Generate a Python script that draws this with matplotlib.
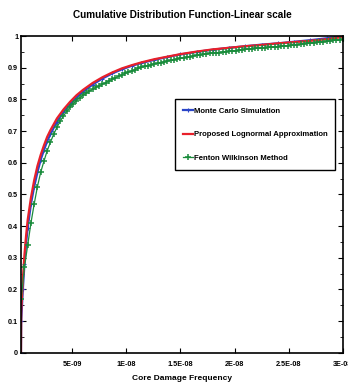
import matplotlib

matplotlib.use('Agg')
import matplotlib.pyplot as plt
from matplotlib import font_manager

# narrow bold font like the original, if the system has one
family = ['Liberation Sans', 'DejaVu Sans']
try:
    font_manager.findfont('Liberation Sans Narrow', fallback_to_default=False)
    family = ['Liberation Sans Narrow'] + family
except ValueError:
    pass
plt.rcParams['font.family'] = family
plt.rcParams['font.weight'] = 'bold'
narrow = family[0] == 'Liberation Sans Narrow'

# Core damage frequency (units of 1e-9) and CDF values
x_grid = [0.3 * k for k in range(1, 101)]
fenton = [0.17, 0.27, 0.34, 0.41, 0.47, 0.525, 0.57, 0.605, 0.638, 0.665,
          0.69, 0.712, 0.731, 0.748, 0.762, 0.775, 0.786, 0.796, 0.805, 0.813,
          0.82, 0.826, 0.832, 0.838, 0.843, 0.848, 0.853, 0.858, 0.863, 0.868,
          0.873, 0.878, 0.882, 0.886, 0.89, 0.894, 0.898, 0.901, 0.904, 0.907,
          0.91, 0.912, 0.914, 0.916, 0.919, 0.921, 0.923, 0.925, 0.928, 0.93,
          0.932, 0.934, 0.935, 0.937, 0.939, 0.94, 0.942, 0.943, 0.945, 0.946,
          0.947, 0.948, 0.95, 0.951, 0.952, 0.953, 0.954, 0.955, 0.957, 0.958,
          0.959, 0.96, 0.961, 0.962, 0.963, 0.963, 0.964, 0.965, 0.966, 0.967,
          0.968, 0.969, 0.97, 0.971, 0.972, 0.973, 0.975, 0.976, 0.977, 0.978,
          0.979, 0.98, 0.981, 0.982, 0.983, 0.984, 0.986, 0.987, 0.988, 0.99]

x_fit = [0.28, 0.3, 0.45, 0.6, 0.75, 0.9, 1.2, 1.5, 1.8, 2.1, 2.4, 2.7, 3.0,
         3.6, 4.2, 4.8, 5.4, 6.0, 6.9, 7.8, 8.7, 9.6, 10.5, 11.4, 12.6, 13.8,
         15.0, 16.5, 18.0, 19.5, 21.0, 22.5, 24.0, 25.5, 27.0, 28.5, 30.0]
lognormal = [0.0, 0.13, 0.23, 0.31, 0.37, 0.42, 0.49, 0.545, 0.59, 0.625,
             0.655, 0.682, 0.703, 0.74, 0.768, 0.792, 0.813, 0.83, 0.852, 0.87,
             0.885, 0.898, 0.908, 0.917, 0.927, 0.935, 0.943, 0.951, 0.958,
             0.963, 0.968, 0.972, 0.977, 0.981, 0.985, 0.99, 0.997]
monte_carlo = [0.0, 0.1, 0.2, 0.28, 0.345, 0.395, 0.47, 0.525, 0.57, 0.61,
               0.64, 0.668, 0.69, 0.73, 0.76, 0.785, 0.806, 0.824, 0.847, 0.866,
               0.882, 0.895, 0.906, 0.915, 0.925, 0.934, 0.942, 0.95, 0.957,
               0.963, 0.968, 0.973, 0.977, 0.982, 0.987, 0.993, 1.0]

x_ticks = [5e-9, 1e-8, 1.5e-8, 2e-8, 2.5e-8, 3e-8]
x_tick_labels = ['5E-09', '1E-08', '1.5E-08', '2E-08', '2.5E-08', '3E-08']
y_ticks = [0, 0.1, 0.2, 0.3, 0.4, 0.5, 0.6, 0.7, 0.8, 0.9, 1]
y_tick_labels = ['0', '0.1', '0.2', '0.3', '0.4', '0.5', '0.6', '0.7', '0.8', '0.9', '1']
y_minor = [0.05, 0.15, 0.25, 0.35, 0.45, 0.55, 0.65, 0.75, 0.85, 0.95]

# font sizes: bigger if the narrow face is there
fs = {'title': 8.6, 'label': 7.0, 'tick': 5.6, 'legend': 6.4} if narrow else \
     {'title': 7.2, 'label': 6.0, 'tick': 5.2, 'legend': 5.6}

fig = plt.figure(figsize=(3.48, 3.92), dpi=100)
ax = fig.add_axes([0.0603, 0.100, 0.925, 0.808])

ax.plot([v * 1e-9 for v in x_fit], monte_carlo, color='#2a45c8', lw=1.6,
        marker='+', ms=3, mew=0.8, label='Monte Carlo Simulation')
ax.plot([v * 1e-9 for v in x_fit], lognormal, color='#e8202a', lw=1.6,
        label='Proposed Lognormal Approximation')
ax.plot([v * 1e-9 for v in x_grid], fenton, color='#1a8c3c', lw=0.9,
        marker='+', ms=4, mew=1.1, label='Fenton Wilkinson Method')

ax.set_xlim(2.8e-10, 3e-8)
ax.set_ylim(0, 1)
ax.set_xticks(x_ticks)
ax.set_xticklabels(x_tick_labels)
ax.set_yticks(y_ticks)
ax.set_yticklabels(y_tick_labels)
ax.set_yticks(y_minor, minor=True)
ax.tick_params(axis='both', which='both', direction='in', top=True, right=True)
ax.tick_params(axis='both', which='major', length=3.5, width=0.8)
ax.tick_params(axis='y', which='minor', length=2, width=0.6)
ax.tick_params(axis='x', labelsize=fs['tick'], pad=6)
ax.tick_params(axis='y', labelsize=fs['tick'], pad=2)
for s in ax.spines.values():
    s.set_linewidth(1.2)

ax.set_title('Cumulative Distribution Function-Linear scale',
             fontsize=fs['title'], fontweight='bold', pad=13)
ax.set_xlabel('Core Damage Frequency', fontsize=fs['label'],
              fontweight='bold', labelpad=5)

leg = ax.legend(loc='upper left', bbox_to_anchor=(0.478, 0.80),
                fontsize=fs['legend'],
                handlelength=1.3, handletextpad=0.15, borderpad=1.0,
                labelspacing=2.1, fancybox=False, framealpha=1, borderaxespad=0)
leg.get_frame().set_edgecolor('black')
leg.get_frame().set_linewidth(1.0)

fig.savefig('out.png', dpi=100)
